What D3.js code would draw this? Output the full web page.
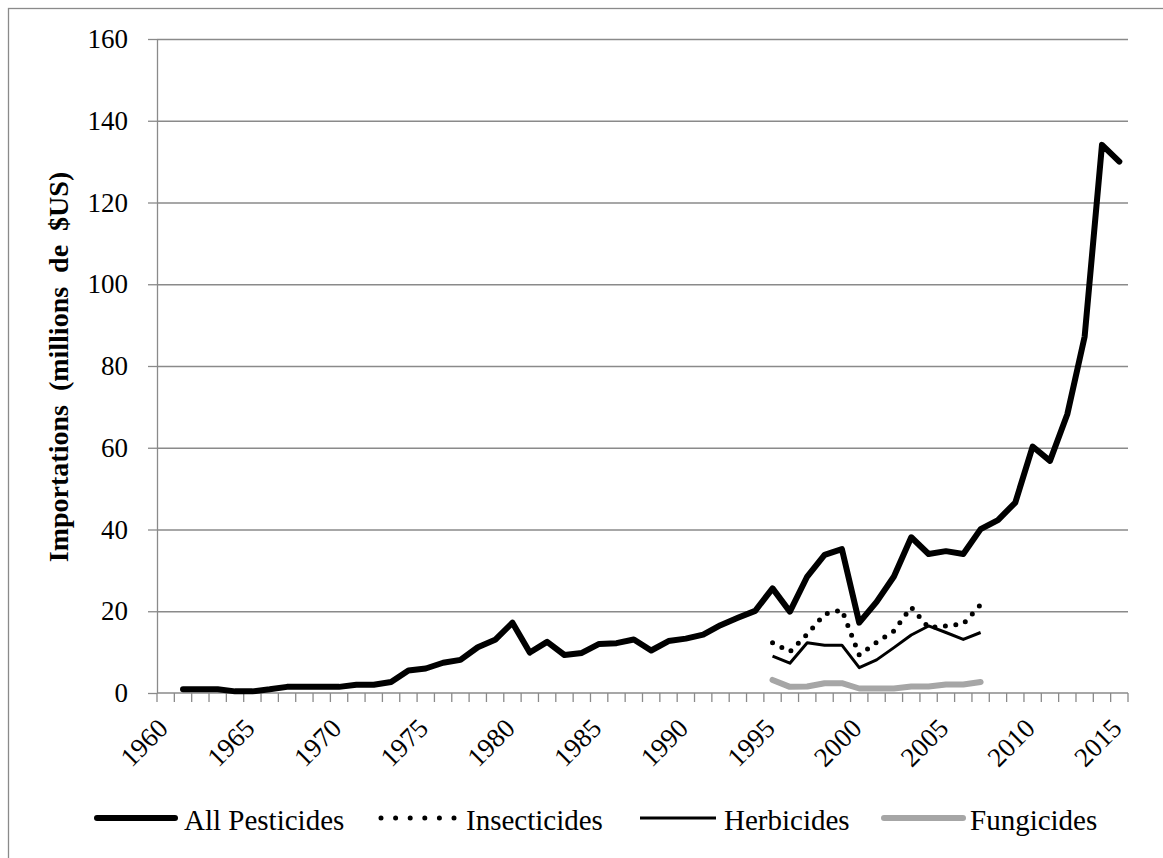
<!DOCTYPE html>
<html><head><meta charset="utf-8">
<script src="https://cdn.jsdelivr.net/npm/d3@7"></script>
<style>
html,body{margin:0;padding:0;background:#fff;}
text{font-family:"Liberation Serif","Times New Roman",serif;}
</style></head>
<body>
<svg id="chart" width="1163" height="858"></svg>
<script>
// ---- data ----
const categories = [1960,1961,1962,1963,1964,1965,1966,1967,1968,1969,1970,1971,1972,1973,1974,1975,1976,1977,1978,1979,1980,1981,1982,1983,1984,1985,1986,1987,1988,1989,1990,1991,1992,1993,1994,1995,1996,1997,1998,1999,2000,2001,2002,2003,2004,2005,2006,2007,2008,2009,2010,2011,2012,2013,2014,2015];
const tickLabels = [1960,1965,1970,1975,1980,1985,1990,1995,2000,2005,2010,2015];
const yTicks = [0,20,40,60,80,100,120,140,160];

const allYears = [1961,1962,1963,1964,1965,1966,1967,1968,1969,1970,1971,1972,1973,1974,1975,1976,1977,1978,1979,1980,1981,1982,1983,1984,1985,1986,1987,1988,1989,1990,1991,1992,1993,1994,1995,1996,1997,1998,1999,2000,2001,2002,2003,2004,2005,2006,2007,2008,2009,2010,2011,2012,2013,2014,2015];
const allPesticides = [0.9,0.9,0.9,0.4,0.4,0.9,1.5,1.5,1.5,1.5,2.0,2.0,2.7,5.5,6.0,7.4,8.1,11.2,13.0,17.2,9.9,12.5,9.3,9.8,12.0,12.2,13.1,10.4,12.7,13.3,14.3,16.6,18.4,20.1,25.6,19.9,28.5,33.8,35.2,17.2,22.3,28.5,38.1,34.0,34.7,34.0,40.1,42.3,46.6,60.3,56.8,68.2,87.2,134.1,130.0];

const subYears = [1995,1996,1997,1998,1999,2000,2001,2002,2003,2004,2005,2006,2007];
const insecticides = [12.3,10.1,14.4,19.3,20.3,9.3,12.4,15.2,21.0,16.0,16.4,16.9,21.6];
const herbicides = [9.0,7.3,12.3,11.7,11.7,6.2,8.1,11.1,14.2,16.4,14.8,13.1,14.8];
const fungicides = [3.2,1.5,1.6,2.4,2.4,1.1,1.1,1.1,1.6,1.6,2.1,2.1,2.7];

const seriesNames = ["All Pesticides","Insecticides","Herbicides","Fungicides"];

(function(){
// ---- layout ----
const svg = d3.select("#chart");
const L = 157, R = 1128, T = 39, B = 693;
const gridColor = "#8a8a8a";

// chart border (only top/left visible in reference)
svg.append("rect").attr("x",8.5).attr("y",8.5).attr("width",1300).attr("height",1000)
  .attr("fill","none").attr("stroke","#8a8a8a").attr("stroke-width",1.3);

const x = d3.scaleBand().domain(categories).range([L,R]).padding(0);
const y = d3.scaleLinear().domain([0,160]).range([B,T]);
const cx = d => x(d) + x.bandwidth()/2;

// gridlines
svg.append("g").attr("transform",`translate(${L},0)`)
  .call(d3.axisLeft(y).tickValues(yTicks.filter(v=>v>0)).tickSize(-(R-L)).tickFormat(""))
  .call(g=>g.select(".domain").remove())
  .call(g=>g.selectAll("line").attr("stroke",gridColor).attr("stroke-width",1.3));

// y axis
svg.append("g").attr("transform",`translate(${L},0)`)
  .call(d3.axisLeft(y).tickValues(yTicks).tickSize(9).tickPadding(20).tickSizeOuter(0))
  .call(g=>g.select(".domain").attr("stroke",gridColor).attr("stroke-width",1.3))
  .call(g=>g.selectAll("line").attr("stroke",gridColor).attr("stroke-width",1.3))
  .call(g=>g.selectAll("text").attr("font-size",27).attr("fill","#000"));

// x axis line + ticks between categories
const xg = svg.append("g");
xg.append("line").attr("x1",L).attr("x2",R).attr("y1",y(0)).attr("y2",y(0))
  .attr("stroke",gridColor).attr("stroke-width",1.3);
const boundaries = categories.map(c=>x(c)).concat([x(categories[categories.length-1])+x.bandwidth()]);
xg.selectAll("line.tk").data(boundaries).enter().append("line").attr("class","tk")
  .attr("x1",d=>d).attr("x2",d=>d).attr("y1",y(0)).attr("y2",y(0)+9)
  .attr("stroke",gridColor).attr("stroke-width",1.3);
xg.selectAll("text").data(tickLabels).enter().append("text")
  .attr("transform",d=>`translate(${cx(d)+4},${y(0)+37}) rotate(-45)`)
  .attr("text-anchor","end").attr("font-size",27).attr("fill","#000")
  .text(d=>d);

// y axis title
svg.append("text")
  .attr("transform",`translate(68,367) rotate(-90)`)
  .attr("text-anchor","middle").attr("font-weight","bold").attr("font-size",28)
  .style("white-space","pre")
  .text("Importations  (millions  de  $US)");

// ---- lines ----
const line = d3.line().x(d=>cx(d[0])).y(d=>y(d[1]));
const allData = allYears.map((yr,i)=>[yr,allPesticides[i]]);
const insData = subYears.map((yr,i)=>[yr,insecticides[i]]);
const herData = subYears.map((yr,i)=>[yr,herbicides[i]]);
const funData = subYears.map((yr,i)=>[yr,fungicides[i]]);

const styles = [
  {stroke:"#000", width:6, cap:"round"},
  {stroke:"#000", width:5, cap:"round"},
  {stroke:"#000", width:3, cap:"butt"},
  {stroke:"#a6a6a6", width:6, cap:"round"}
];

svg.append("path").datum(funData).attr("d",line).attr("fill","none")
  .attr("stroke",styles[3].stroke).attr("stroke-width",styles[3].width)
  .attr("stroke-linecap","round").attr("stroke-linejoin","round");
svg.append("path").datum(herData).attr("d",line).attr("fill","none")
  .attr("stroke",styles[2].stroke).attr("stroke-width",styles[2].width)
  .attr("stroke-linejoin","round");
svg.append("path").datum(insData).attr("d",line).attr("fill","none")
  .attr("stroke",styles[1].stroke).attr("stroke-width",styles[1].width)
  .attr("stroke-dasharray","0 10.5").attr("stroke-linecap","round").attr("stroke-linejoin","round");
svg.append("path").datum(allData).attr("d",line).attr("fill","none")
  .attr("stroke",styles[0].stroke).attr("stroke-width",styles[0].width)
  .attr("stroke-linecap","round").attr("stroke-linejoin","round");

// ---- legend ----
const legendPos = [
  {x1:97,x2:175,tx:184},
  {x1:381,x2:455,tx:466},
  {x1:640,x2:716,tx:724},
  {x1:884,x2:963,tx:970}
];
const lg = svg.append("g");
seriesNames.forEach((name,i)=>{
  const p = legendPos[i], s = styles[i];
  const l = lg.append("line").attr("x1",p.x1).attr("x2",p.x2).attr("y1",818).attr("y2",818)
    .attr("stroke",s.stroke).attr("stroke-width",s.width).attr("stroke-linecap",s.cap);
  if (i===1) l.attr("stroke-dasharray","0 14.6");
  lg.append("text").attr("x",p.tx).attr("y",830).attr("font-size",29).attr("fill","#000").text(name);
});
})();
</script>
</body></html>
